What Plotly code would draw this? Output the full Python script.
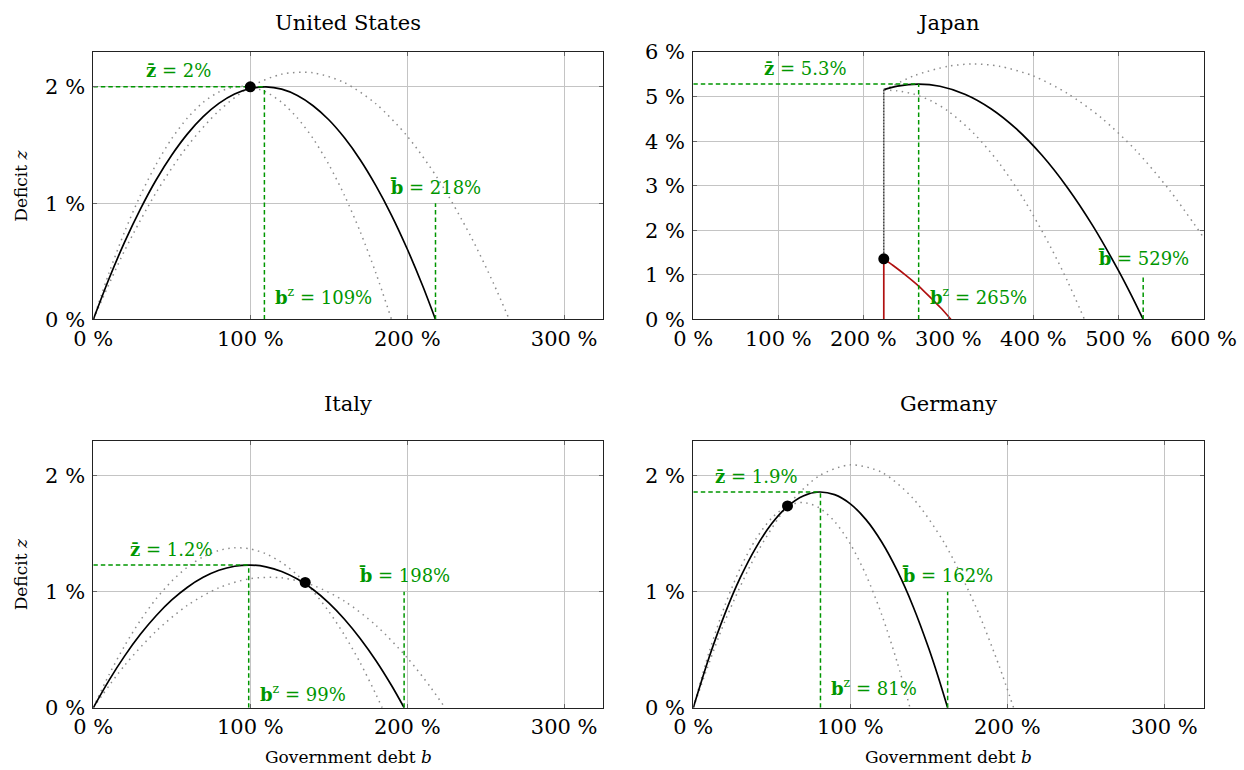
import plotly.graph_objects as go

# ---------------- data (all values in percent of GDP) ----------------
countries = ["United States", "Japan", "Italy", "Germany"]

z_bar = [2.0, 5.28, 1.23, 1.86]      # maximum deficit
b_z = [109, 265, 99, 81]             # debt level at the maximum deficit
b_bar = [218, 529, 198, 162]         # maximum sustainable debt
now_b = [100, 224, 135, 60]          # current debt
now_z = [2.0, 1.36, 1.08, 1.74]      # current deficit

x_max = [325, 600, 325, 325]
y_max = [2.3, 6, 2.3, 2.3]
x_ticks = [[0, 100, 200, 300], [0, 100, 200, 300, 400, 500, 600],
           [0, 100, 200, 300], [0, 100, 200, 300]]
y_ticks = [[0, 1, 2], [0, 1, 2, 3, 4, 5, 6], [0, 1, 2], [0, 1, 2]]

# United States
us_b = [0, 10, 20, 30, 40, 50, 60, 70, 80, 90, 100, 110, 120, 130, 140, 150,
        160, 170, 180, 190, 200, 210, 218]
us_z = [0, 0.350, 0.667, 0.949, 1.199, 1.414, 1.596, 1.744, 1.858, 1.939,
        1.986, 2.000, 1.980, 1.926, 1.838, 1.717, 1.562, 1.374, 1.151, 0.896,
        0.606, 0.283, 0]
us_lo_b = [0, 10, 20, 30, 40, 50, 60, 70, 80, 90, 100, 110, 120, 130, 140,
           150, 160, 170, 180, 190]
us_lo_z = [0, 0.400, 0.756, 1.067, 1.333, 1.556, 1.733, 1.867, 1.956, 2.000,
           2.000, 1.956, 1.867, 1.733, 1.556, 1.333, 1.067, 0.756, 0.400, 0]
us_hi_b = [0, 20, 40, 60, 80, 100, 120, 140, 160, 180, 200, 220, 240, 255, 265]
us_hi_z = [0, 0.594, 1.091, 1.491, 1.794, 2.000, 2.109, 2.121, 2.036, 1.855,
           1.576, 1.200, 0.727, 0.309, 0]

# Japan
jp_b = [224, 240, 265, 290, 320, 350, 380, 410, 440, 470, 500, 515, 529]
jp_z = [5.156, 5.235, 5.280, 5.231, 5.048, 4.728, 4.273, 3.682, 2.955, 2.093,
        1.094, 0.544, 0]
jp_lo_b = [224, 240, 260, 280, 300, 330, 360, 390, 420, 440, 460]
jp_lo_z = [5.14, 5.13, 5.05, 4.90, 4.67, 4.17, 3.50, 2.65, 1.63, 0.86, 0]
jp_hi_b = [224, 260, 300, 329, 360, 400, 440, 480, 520, 560, 600]
jp_hi_z = [5.14, 5.47, 5.68, 5.73, 5.68, 5.46, 5.07, 4.52, 3.80, 2.90, 1.84]
jp_red_b = [224, 235, 250, 265, 280, 292, 303]
jp_red_z = [1.36, 1.21, 0.99, 0.75, 0.47, 0.24, 0]

# Italy
it_b = [0, 10, 20, 30, 40, 50, 60, 70, 80, 90, 100, 110, 120, 130, 140, 150,
        160, 170, 180, 190, 198]
it_z = [0, 0.236, 0.447, 0.633, 0.793, 0.929, 1.039, 1.124, 1.185, 1.220,
        1.230, 1.215, 1.175, 1.109, 1.019, 0.904, 0.763, 0.597, 0.407, 0.191, 0]
it_lo_b = [0, 20, 40, 60, 80, 100, 120, 140, 160, 180, 200, 215, 224]
it_lo_z = [0, 0.366, 0.660, 0.883, 1.034, 1.113, 1.120, 1.055, 0.919, 0.711,
           0.431, 0.174, 0]
it_hi_b = [0, 10, 20, 30, 40, 50, 60, 70, 80, 90, 100, 110, 120, 130, 140,
           150, 160, 170, 180, 184]
it_hi_z = [0, 0.284, 0.535, 0.753, 0.939, 1.092, 1.213, 1.301, 1.356, 1.379,
           1.369, 1.327, 1.252, 1.144, 1.004, 0.831, 0.626, 0.388, 0.117, 0]

# Germany
de_b = [0, 10, 20, 30, 40, 50, 60, 70, 80, 90, 100, 110, 120, 130, 140, 150,
        156, 162]
de_z = [0, 0.431, 0.805, 1.123, 1.383, 1.588, 1.735, 1.826, 1.860, 1.837,
        1.758, 1.622, 1.429, 1.179, 0.873, 0.510, 0.265, 0]
de_lo_b = [0, 10, 20, 30, 40, 50, 60, 70, 80, 90, 100, 110, 120, 130, 138]
de_lo_z = [0, 0.476, 0.877, 1.205, 1.457, 1.636, 1.740, 1.770, 1.725, 1.606,
           1.413, 1.145, 0.803, 0.387, 0]
de_hi_b = [0, 20, 40, 60, 80, 100, 120, 140, 160, 180, 195, 204]
de_hi_z = [0, 0.741, 1.321, 1.740, 1.998, 2.094, 2.030, 1.804, 1.418, 0.870,
           0.353, 0]

curves = [
    (us_b, us_z, us_lo_b, us_lo_z, us_hi_b, us_hi_z),
    (jp_b, jp_z, jp_lo_b, jp_lo_z, jp_hi_b, jp_hi_z),
    (it_b, it_z, it_lo_b, it_lo_z, it_hi_b, it_hi_z),
    (de_b, de_z, de_lo_b, de_lo_z, de_hi_b, de_hi_z),
]

# ---------------- styling ----------------
FONT = "DejaVu Serif"
GREEN = "rgb(0,150,0)"
GREY_DOT = "#8c8c8c"
RED = "#b01010"
W, H = 1244, 770

x_dom = [[0.0750, 0.4851], [0.5573, 0.9675], [0.0750, 0.4851], [0.5573, 0.9675]]
y_dom = [[0.5851, 0.9325], [0.5851, 0.9325], [0.0809, 0.4273], [0.0809, 0.4273]]
bz_label_lift = [23, 23, 15, 21]   # px above the axis for the b^z label


def pct(v):
    return f"{round(v, 1):g}%"


fig = go.Figure()
layout = dict(
    width=W, height=H, margin=dict(l=0, r=0, t=0, b=0, autoexpand=False),
    paper_bgcolor="white", plot_bgcolor="white", showlegend=False,
    font=dict(family=FONT, color="black"),
)
annotations = []

for i, name in enumerate(countries):
    xa = "x" if i == 0 else f"x{i + 1}"
    ya = "y" if i == 0 else f"y{i + 1}"
    b, z, lo_b, lo_z, hi_b, hi_z = curves[i]
    axis_common = dict(
        showgrid=True, gridcolor="#c4c4c4", gridwidth=1, automargin=False,
        showline=True, linecolor="#222", linewidth=1, mirror="ticks",
        ticks="inside", ticklen=4, tickcolor="#666", zeroline=False,
        tickfont=dict(family=FONT, size=21, color="black"),
    )
    layout["xaxis" if i == 0 else f"xaxis{i + 1}"] = dict(
        axis_common, domain=x_dom[i], range=[0, x_max[i]], anchor=ya,
        tickvals=x_ticks[i], ticktext=[f"{t} %" for t in x_ticks[i]],
        ticklabelstandoff=0,
    )
    layout["yaxis" if i == 0 else f"yaxis{i + 1}"] = dict(
        axis_common, domain=y_dom[i], range=[0, y_max[i]], anchor=xa,
        tickvals=y_ticks[i], ticktext=[f"{t} %" for t in y_ticks[i]],
        ticklabelstandoff=3,
    )

    dotted = dict(color=GREY_DOT, width=1.5, dash="1.5px,4.5px",
                  shape="spline", smoothing=0.8)
    fig.add_trace(go.Scatter(x=lo_b, y=lo_z, mode="lines", line=dotted,
                             xaxis=xa, yaxis=ya, hoverinfo="skip"))
    fig.add_trace(go.Scatter(x=hi_b, y=hi_z, mode="lines", line=dotted,
                             xaxis=xa, yaxis=ya, hoverinfo="skip"))
    fig.add_trace(go.Scatter(x=b, y=z, mode="lines",
                             line=dict(color="black", width=1.7,
                                       shape="spline", smoothing=0.8),
                             xaxis=xa, yaxis=ya, hoverinfo="skip"))

    if name == "Japan":
        # jump from the current position up to the deficit curve
        fig.add_trace(go.Scatter(x=[now_b[i], b[0]], y=[now_z[i], z[0]],
                                 mode="lines", line=dict(color="#9a9a9a", width=1.6),
                                 xaxis=xa, yaxis=ya, hoverinfo="skip"))
        fig.add_trace(go.Scatter(x=[now_b[i], b[0]], y=[now_z[i], z[0]],
                                 mode="lines",
                                 line=dict(color="#111", width=1, dash="1px,2px"),
                                 xaxis=xa, yaxis=ya, hoverinfo="skip"))
        fig.add_trace(go.Scatter(x=[now_b[i], now_b[i]], y=[0, now_z[i]],
                                 mode="lines", line=dict(color=RED, width=1.7),
                                 xaxis=xa, yaxis=ya, hoverinfo="skip"))
        fig.add_trace(go.Scatter(x=jp_red_b, y=jp_red_z, mode="lines",
                                 line=dict(color=RED, width=1.7,
                                           shape="spline", smoothing=0.8),
                                 xaxis=xa, yaxis=ya, hoverinfo="skip"))

    dashed = dict(color=GREEN, width=1.5, dash="4.5px,3px")
    fig.add_trace(go.Scatter(x=[0, b_z[i]], y=[z_bar[i], z_bar[i]], mode="lines",
                             line=dashed, xaxis=xa, yaxis=ya, hoverinfo="skip"))
    fig.add_trace(go.Scatter(x=[b_z[i], b_z[i]], y=[0, z_bar[i]], mode="lines",
                             line=dashed, xaxis=xa, yaxis=ya, hoverinfo="skip"))
    fig.add_trace(go.Scatter(x=[b_bar[i], b_bar[i]], y=[0, 1], mode="lines",
                             line=dashed, xaxis=xa, yaxis=ya, hoverinfo="skip"))

    fig.add_trace(go.Scatter(x=[now_b[i]], y=[now_z[i]], mode="markers",
                             marker=dict(color="black", size=11),
                             xaxis=xa, yaxis=ya, hoverinfo="skip"))

    lab_font = dict(family=FONT, size=18, color=GREEN)
    annotations += [
        dict(x=b_z[i] / 2, y=z_bar[i], xref=xa, yref=ya, yshift=16,
             text=f"<b>z\u0304</b> = {pct(z_bar[i])}", showarrow=False,
             xanchor="center", yanchor="middle", font=lab_font),
        dict(x=b_z[i], y=0, xref=xa, yref=ya, xshift=9, yshift=bz_label_lift[i],
             text=f"<b>b</b><sup>z</sup> = {b_z[i]}%", showarrow=False,
             xanchor="left", yanchor="middle", font=lab_font),
        dict(x=b_bar[i], y=1, xref=xa, yref=ya, yshift=16,
             text=f"<b>b\u0304</b> = {b_bar[i]}%", showarrow=False,
             xanchor="center", yanchor="middle", font=lab_font),
    ]

    cx = (x_dom[i][0] + x_dom[i][1]) / 2
    top_px = 23 if i < 2 else 404
    annotations.append(dict(
        x=cx, y=1 - top_px / H, xref="paper", yref="paper", text=name,
        showarrow=False, xanchor="center", yanchor="middle",
        font=dict(family=FONT, size=21, color="black")))
    if i in (0, 2):
        annotations.append(dict(
            x=21 / W, y=(y_dom[i][0] + y_dom[i][1]) / 2, xref="paper",
            yref="paper", text="Deficit <i>z</i>", textangle=-90,
            showarrow=False, xanchor="center", yanchor="middle",
            font=dict(family=FONT, size=17, color="black")))
    if i in (2, 3):
        annotations.append(dict(
            x=cx, y=1 - 757 / H, xref="paper", yref="paper",
            text="Government debt <i>b</i>", showarrow=False,
            xanchor="center", yanchor="middle",
            font=dict(family=FONT, size=17, color="black")))

layout["annotations"] = annotations
fig.update_layout(**layout)
fig.write_html("out.html")
